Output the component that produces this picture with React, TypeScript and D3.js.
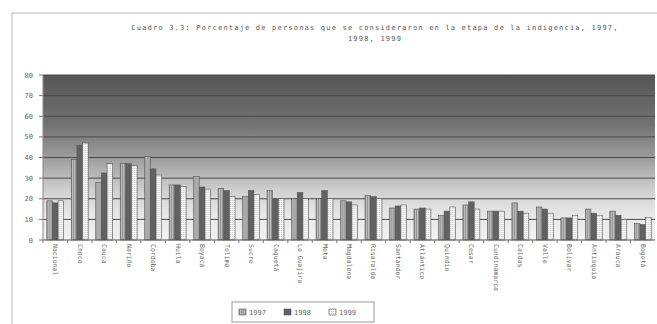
import React from "react";
import * as d3 from "d3";

const categories = [
  "Nacional", "Chocó", "Cauca", "Nariño", "Córdoba", "Huila", "Boyacá", "Tolima",
  "Sucre", "Caquetá", "La Guajira", "Meta", "Magdalena", "Risaralda", "Santander",
  "Atlántico", "Quindío", "Cesar", "Cundinamarca", "Caldas", "Valle", "Bolívar",
  "Antioquia", "Arauca", "Bogotá",
];
const v1997 = [19, 39, 28, 37, 40.5, 26.7, 30.7, 25, 21, 24, 20, 20, 19, 21.5, 15.5, 15, 12, 17, 14, 18, 16, 10.7, 15, 14, 8];
const v1998 = [18, 46, 32.5, 37, 34.5, 26.7, 25.7, 24, 24, 20, 23, 24, 18.5, 21, 16.5, 15.5, 14, 18.5, 14, 14, 15, 10.7, 13, 12, 7.5];
const v1999 = [19, 47, 37, 36, 31.5, 26, 24.7, 21, 22, 20, 20, 20, 17, 20, 17, 15, 16, 15, 14, 13, 13, 12, 12, 10, 11];
const seriesNames = ["1997", "1998", "1999"];
const yTicks = [0, 10, 20, 30, 40, 50, 60, 70, 80];

const W = 657;
const H = 324;
const plot = { left: 43, right: 655, top: 75, bottom: 240 };
const fills = ["url(#hatch97)", "#616161", "url(#hatch99)"];
const fontFamily = "'DejaVu Sans Mono', monospace";

export default function App() {
  const series = [v1997, v1998, v1999];
  const x0 = d3.scaleBand<string>().domain(categories).range([plot.left, plot.right]).paddingInner(0.3).paddingOuter(0.15);
  const x1 = d3.scaleBand<string>().domain(seriesNames).range([0, x0.bandwidth()]).padding(0.02);
  const y = d3.scaleLinear().domain([0, 80]).range([plot.bottom, plot.top]);
  const step = x0.step();

  return (
    <svg width={W} height={H} style={{ position: "absolute", left: 0, top: 0, background: "#fff" }}>
      <defs>
        <linearGradient id="bg" x1="0" y1="0" x2="0" y2="1">
          <stop offset="0" stopColor="#565656" />
          <stop offset="0.3" stopColor="#727272" />
          <stop offset="0.5" stopColor="#9c9c9c" />
          <stop offset="0.7" stopColor="#d0d0d0" />
          <stop offset="0.85" stopColor="#e8e8e8" />
          <stop offset="1" stopColor="#f2f2f2" />
        </linearGradient>
        <pattern id="hatch97" width="2" height="2" patternUnits="userSpaceOnUse">
          <rect width="2" height="2" fill="#c4c4c4" />
          <rect width="1" height="2" fill="#8e8e8e" />
        </pattern>
        <pattern id="hatch99" width="2" height="2" patternUnits="userSpaceOnUse">
          <rect width="2" height="2" fill="#f4f4f4" />
          <rect width="1" height="1" fill="#d0d0d0" />
        </pattern>
      </defs>

      {/* outer chart frame */}
      <rect x={12} y={13} width={W} height={H} fill="none" stroke="#b8b8b8" strokeWidth={1} />

      {/* title */}
      <text x={375} y={30} textAnchor="middle" fontFamily={fontFamily} fontSize={7} letterSpacing={1.2} fill="#555">
        Cuadro 3.3: Porcentaje de personas que se consideraron en la etapa de la indigencia, 1997,
      </text>
      <text x={375} y={41} textAnchor="middle" fontFamily={fontFamily} fontSize={7} letterSpacing={1.2} fill="#555">
        1998, 1999
      </text>

      {/* plot background */}
      <rect x={plot.left} y={plot.top} width={plot.right - plot.left} height={plot.bottom - plot.top} fill="url(#bg)" />

      {/* gridlines and y axis */}
      {yTicks.map((t) => (
        <g key={t}>
          {t > 0 && (
            <line x1={plot.left} x2={plot.right} y1={y(t)} y2={y(t)} stroke="#4a4a4a" strokeWidth={1} />
          )}
          <line x1={plot.left - 4} x2={plot.left} y1={y(t)} y2={y(t)} stroke="#777" />
          <text x={plot.left - 10} y={y(t) + 2.5} textAnchor="end" fontFamily={fontFamily} fontSize={7} fill="#666">
            {t}
          </text>
        </g>
      ))}
      <line x1={plot.left} x2={plot.left} y1={plot.top} y2={plot.bottom} stroke="#888" />

      {/* bars */}
      {categories.map((c, i) => (
        <g key={c} transform={`translate(${x0(c)},0)`}>
          {series.map((s, k) => (
            <rect
              key={k}
              x={x1(seriesNames[k])}
              y={y(s[i])}
              width={x1.bandwidth()}
              height={y(0) - y(s[i])}
              fill={fills[k]}
              stroke="#555"
              strokeWidth={0.6}
            />
          ))}
        </g>
      ))}

      {/* x axis */}
      <line x1={plot.left} x2={plot.right} y1={plot.bottom} y2={plot.bottom} stroke="#555" />
      {categories.map((c) => (
        <line
          key={"t" + c}
          x1={(x0(c) as number) - (step - x0.bandwidth()) / 2}
          x2={(x0(c) as number) - (step - x0.bandwidth()) / 2}
          y1={plot.bottom}
          y2={plot.bottom + 3}
          stroke="#777"
        />
      ))}
      {categories.map((c) => {
        const cx = (x0(c) as number) + x0.bandwidth() / 2;
        return (
          <text
            key={"l" + c}
            transform={`translate(${cx - 2},${plot.bottom + 4}) rotate(90)`}
            fontFamily={fontFamily}
            fontSize={6.5}
            fill="#666"
          >
            {c}
          </text>
        );
      })}

      {/* legend */}
      <g transform="translate(232,302)">
        <rect x={0} y={0} width={142} height={20} fill="#fff" stroke="#999" />
        {seriesNames.map((n, k) => (
          <g key={n} transform={`translate(${7 + k * 45},7)`}>
            <rect width={7} height={6} fill={fills[k]} stroke="#555" strokeWidth={0.6} />
            <text x={10} y={6} fontFamily={fontFamily} fontSize={7} fill="#666">
              {n}
            </text>
          </g>
        ))}
      </g>
    </svg>
  );
}
